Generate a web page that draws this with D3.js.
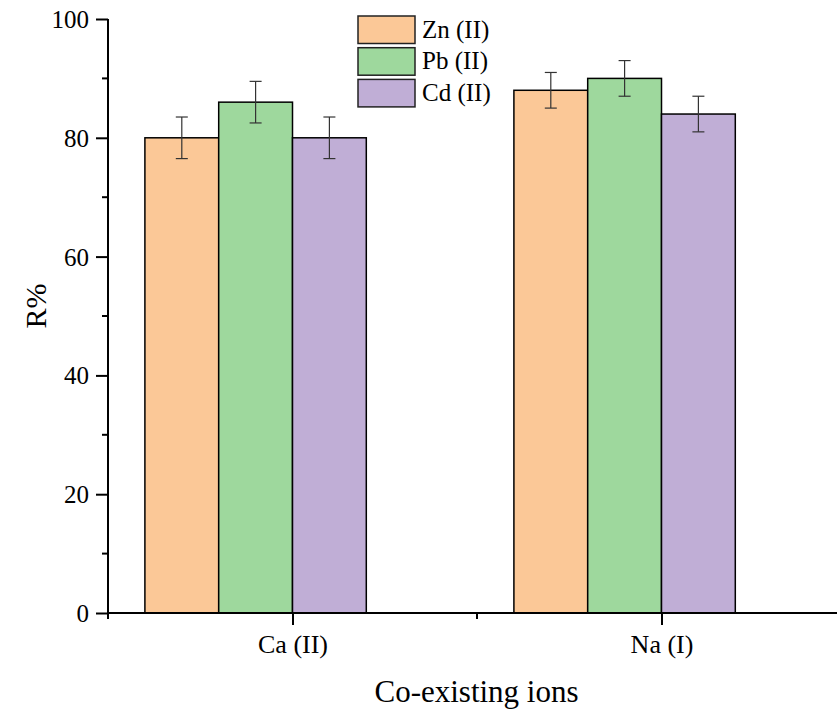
<!DOCTYPE html>
<html>
<head>
<meta charset="utf-8">
<script src="https://cdn.jsdelivr.net/npm/d3@7"></script>
<style>
  html, body { margin: 0; padding: 0; background: #fff; }
  svg text { font-family: "Liberation Serif", "Times New Roman", serif; fill: #000; }
</style>
</head>
<body>
<svg id="chart" width="837" height="709"></svg>
<script>
// Removal efficiency (R%) in presence of co-existing ions
const categories = ["Ca (II)", "Na (I)"];
const seriesNames = ["Zn (II)", "Pb (II)", "Cd (II)"];
const seriesColors = ["#fbc897", "#9ed89d", "#c0aed6"];
const znValues = [80, 88];
const pbValues = [86, 90];
const cdValues = [80, 84];
const znErrors = [3.5, 3];
const pbErrors = [3.5, 3];
const cdErrors = [3.5, 3];
const yTicks = [0, 20, 40, 60, 80, 100];
const yMinorTicks = [10, 30, 50, 70, 90];
const xMinorTicks = [0.5, 1.5, 2.5];

const series = [
  { name: seriesNames[0], values: znValues, errors: znErrors, color: seriesColors[0], offset: -0.4 },
  { name: seriesNames[1], values: pbValues, errors: pbErrors, color: seriesColors[1], offset: -0.2 },
  { name: seriesNames[2], values: cdValues, errors: cdErrors, color: seriesColors[2], offset: 0.0 }
];
const barUnits = 0.2;
const serif = "Liberation Serif, Times New Roman, serif";

const svg = d3.select("#chart");
svg.append("rect").attr("width", 837).attr("height", 709).attr("fill", "#fff");

const x = d3.scaleLinear().domain([0.5, 2.5]).range([108, 846]);
const y = d3.scaleLinear().domain([0, 100]).range([613, 19]);

// Bars
series.forEach(s => {
  const g = svg.append("g");
  g.selectAll("rect")
    .data(s.values)
    .join("rect")
    .attr("x", (d, i) => x(i + 1 + s.offset))
    .attr("width", x(barUnits) - x(0))
    .attr("y", d => y(d))
    .attr("height", d => y(0) - y(d))
    .attr("fill", s.color)
    .attr("stroke", "#000")
    .attr("stroke-width", 1.5);
});

// Error bars
series.forEach(s => {
  const g = svg.append("g").attr("stroke", "#333").attr("stroke-width", 1.2).attr("fill", "none");
  s.values.forEach((v, i) => {
    const cx = x(i + 1 + s.offset + barUnits / 2);
    const e = s.errors[i];
    g.append("line").attr("x1", cx).attr("x2", cx).attr("y1", y(v + e)).attr("y2", y(v - e));
    g.append("line").attr("x1", cx - 6).attr("x2", cx + 6).attr("y1", y(v + e)).attr("y2", y(v + e));
    g.append("line").attr("x1", cx - 6).attr("x2", cx + 6).attr("y1", y(v - e)).attr("y2", y(v - e));
  });
});

// Y axis
const yAxis = svg.append("g").attr("transform", "translate(108,0)")
  .call(d3.axisLeft(y).tickValues(yTicks).tickSize(12).tickPadding(7).tickFormat(d3.format("d")));
yAxis.select(".domain").attr("d", `M0,${y(100)}V${y(0) + 5}`);
yAxis.selectAll("line").attr("stroke-width", 2);
yAxis.select(".domain").attr("stroke-width", 2);
yAxis.selectAll("text").attr("font-size", 25).attr("font-family", serif).attr("dy", "0.34em");
yAxis.append("g").selectAll("line").data(yMinorTicks).join("line")
  .attr("x1", -6).attr("x2", 0).attr("y1", d => y(d)).attr("y2", d => y(d))
  .attr("stroke", "#000").attr("stroke-width", 2);

// X axis
const xAxis = svg.append("g").attr("transform", `translate(0,${y(0)})`)
  .call(d3.axisBottom(x).tickValues([1, 2]).tickSize(12).tickPadding(10)
    .tickFormat((d, i) => categories[i]));
xAxis.select(".domain").attr("d", `M${x(0.5) - 1},0H${x(2.5)}`).attr("stroke-width", 2);
xAxis.selectAll("line").attr("stroke-width", 2);
xAxis.selectAll("text").attr("font-size", 26).attr("font-family", serif);
xAxis.append("g").selectAll("line").data(xMinorTicks).join("line")
  .attr("x1", d => x(d)).attr("x2", d => x(d)).attr("y1", 0).attr("y2", 6)
  .attr("stroke", "#000").attr("stroke-width", 2);

// Axis titles
svg.append("text")
  .attr("x", 476.5).attr("y", 702)
  .attr("text-anchor", "middle").attr("font-size", 31).attr("font-family", serif)
  .text("Co-existing ions");
svg.append("text")
  .attr("transform", "translate(46,306) rotate(-90)")
  .attr("text-anchor", "middle").attr("font-size", 30).attr("font-family", serif)
  .text("R%");

// Legend
const legend = svg.append("g").attr("transform", "translate(358,16)");
series.forEach((s, i) => {
  const row = legend.append("g").attr("transform", `translate(0,${i * 31.7})`);
  row.append("rect").attr("width", 57).attr("height", 27.5)
    .attr("fill", s.color).attr("stroke", "#222").attr("stroke-width", 1.5);
  row.append("text").attr("x", 64).attr("y", 21.5).attr("font-size", 25).attr("font-family", serif).text(s.name);
});
</script>
</body>
</html>
